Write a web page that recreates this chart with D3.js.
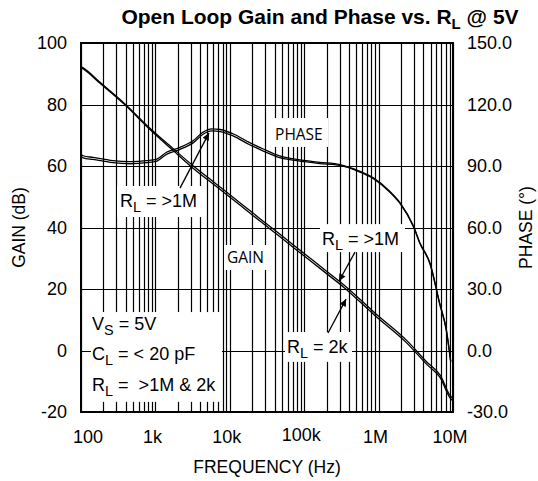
<!DOCTYPE html>
<html><head><meta charset="utf-8">
<script src="https://cdn.jsdelivr.net/npm/d3@7"></script>
<style>
body{margin:0;background:#fff}
svg{display:block}
text{font-family:"Liberation Sans",Arial,sans-serif;fill:#000;white-space:pre}
</style>
</head><body>
<svg id="c" width="538" height="481"></svg>
<script>
// ---------- data ----------
const xTicks = [100, 1e3, 1e4, 1e5, 1e6, 1e7];
const xTickLabels = ["100", "1k", "10k", "100k", "1M", "10M"];
const gainTicks = [-20, 0, 20, 40, 60, 80, 100];
const gainTickLabels = ["-20", "0", "20", "40", "60", "80", "100"];
const phaseTicks = [-30, 0, 30, 60, 90, 120, 150];
const phaseTickLabels = ["-30.0", "0.0", "30.0", "60.0", "90.0", "120.0", "150.0"];

const gainFreq = [100, 107, 180, 389, 851, 1740, 3240, 6610, 13800, 18600, 25700, 46800, 70800, 200000, 339000, 891000, 2400000, 4470000, 6760000, 9120000, 10000000];
const gain1M = [92.3, 91.9, 87.2, 80.2, 72.2, 65.6, 60.0, 54.1, 48.0, 45.5, 42.8, 37.9, 34.4, 25.8, 21.4, 12.2, 3.2, -3.8, -8.1, -14.6, -15.6];
const gain2k = [92.0, 91.6, 86.9, 79.9, 71.8, 65.0, 59.2, 53.3, 47.2, 44.7, 42.0, 37.1, 33.6, 25.0, 20.6, 11.4, 2.4, -4.6, -8.9, -15.4, -16.4];

const phaseFreq = [100, 107, 145, 200, 269, 457, 759, 1050, 1410, 2140, 3240, 4370, 5750, 7410, 11200, 18200, 28200, 46800, 79400, 162000, 302000, 562000, 851000, 1410000, 1950000, 2950000, 3630000, 4900000, 6610000, 8130000, 9330000];
const phase1M = [95.5, 95.0, 94.2, 93.4, 92.6, 92.1, 92.6, 93.4, 96.7, 99.1, 102.4, 106.5, 108.1, 107.8, 105.6, 101.5, 98.3, 94.9, 93.2, 91.8, 90.7, 87.4, 84.2, 77.7, 72.0, 60.6, 52.2, 42.7, 23.2, 10.2, -5.3];
const phase2k = [94.5, 94.0, 93.2, 92.4, 91.6, 91.1, 91.6, 92.4, 95.7, 98.1, 101.4, 105.5, 107.1, 106.8, 104.6, 100.5, 97.3, 94.1, 92.6, 91.2, 90.3, 87.0, 83.8, 77.3, 71.6, 60.2, 51.8, 42.3, 22.8, 9.8, -5.7];

// annotations (data coordinates: frequency, gain dB)
const notes = [
  {parts: [["PHASE", ""]], font: "Open Sans", size: 15.5, at: [[40600, 68.5]], box: [36900, 75.6, 209000, 66.2]},
  {parts: [["GAIN", ""]], font: "Open Sans", size: 15.5, at: [[9160, 28.5]], box: [8360, 34.3, 32600, 26.2]},
  {parts: [["R", ""], ["L", "sub"], [" = >1M", ""]], at: [[334, 46.7]], box: [305, 53.5, 4370, 43.4]},
  {parts: [["R", ""], ["L", "sub"], [" = >1M", ""]], at: [[173000, 34.3]], box: [163000, 41.1, 2260000, 32.0]},
  {parts: [["R", ""], ["L", "sub"], [" = 2k", ""]], at: [[58800, -0.9]], box: [55200, 6.0, 439000, -3.7]},
];
const infoLines = [
  [["V", ""], ["S", "sub"], [" = 5V", ""]],
  [["C", ""], ["L", "sub"], [" = < 20 pF", ""]],
  [["R", ""], ["L", "sub"], [" =  >1M & 2k", ""]],
];
const infoAt = [[141, 6.7], [141, -3.1], [141, -13.2]];
const infoBox = [136, 12.5, 7850, -16.7];

const arrows = [
  {from: [2140, 52.8], to: [5250, 70.7]},
  {from: [482000, 32.0], to: [294000, 22.6]},
  {from: [209000, 5.7], to: [365000, 16.7]},
];

// ---------- layout ----------
const L = 81, R = 453, T = 43, B = 412;
const svg = d3.select("#c");
const x = d3.scaleLog().domain([100, 1e7]).range([L, R]);
const yG = d3.scaleLinear().domain([-20, 100]).range([B, T]);
const yP = d3.scaleLinear().domain([-30, 150]).range([B, T]);

svg.append("defs").append("marker")
  .attr("id", "ah").attr("viewBox", "0 0 10 10").attr("refX", 10).attr("refY", 5)
  .attr("markerWidth", 10).attr("markerHeight", 7).attr("markerUnits", "userSpaceOnUse")
  .attr("orient", "auto")
  .append("path").attr("d", "M0,0 L10,5 L0,10 z").attr("fill", "#000");

// grid
const minor = [];
for (let k = 2; k < 7; k++) for (let d = 1; d < 10; d++) minor.push(d * Math.pow(10, k));
minor.push(1e7);
const g = svg.append("g");
g.selectAll("line.v").data(minor).join("line")
  .attr("x1", d => Math.round(x(d)) + 0.5).attr("x2", d => Math.round(x(d)) + 0.5)
  .attr("y1", T).attr("y2", B).attr("stroke", "#000").attr("stroke-width", 1.2);
g.selectAll("line.h").data(gainTicks).join("line")
  .attr("x1", L).attr("x2", R)
  .attr("y1", d => Math.round(yG(d)) + 0.5).attr("y2", d => Math.round(yG(d)) + 0.5)
  .attr("stroke", "#000").attr("stroke-width", 1.2);

// white label boxes
function boxRect(b) {
  svg.append("rect")
    .attr("x", x(b[0])).attr("y", yG(b[1]))
    .attr("width", x(b[2]) - x(b[0])).attr("height", yG(b[3]) - yG(b[1]))
    .attr("fill", "#fff");
}
notes.forEach(n => boxRect(n.box));
boxRect(infoBox);

// curves
const line = (xs, ys, yScale) => d3.line().curve(d3.curveMonotoneX)
  .x((d, i) => x(xs[i])).y((d, i) => yScale(ys[i]))(ys);
[[gainFreq, gain1M, yG], [gainFreq, gain2k, yG], [phaseFreq, phase1M, yP], [phaseFreq, phase2k, yP]]
  .forEach(([xs, ys, sc]) => {
    svg.append("path").attr("d", line(xs, ys, sc))
      .attr("fill", "none").attr("stroke", "#000").attr("stroke-width", 1.3)
      .attr("stroke-linejoin", "round");
  });

// border
svg.append("rect").attr("x", L).attr("y", T).attr("width", R - L).attr("height", B - T)
  .attr("fill", "none").attr("stroke", "#000").attr("stroke-width", 2);

// text helper
function richText(parts, px, py, size, font) {
  const t = svg.append("text").attr("x", px).attr("y", py).attr("font-size", size);
  if (font) t.style("font-family", font);
  let sub = false;
  parts.forEach(([s, k]) => {
    const ts = t.append("tspan").text(s);
    if (k === "sub") { ts.attr("dy", 5).attr("font-size", size * 0.8); sub = true; }
    else if (sub) { ts.attr("dy", -5); sub = false; }
  });
  return t;
}
notes.forEach(n => richText(n.parts, x(n.at[0][0]), yG(n.at[0][1]), n.size || 18, n.font));
infoLines.forEach((p, i) => richText(p, x(infoAt[i][0]), yG(infoAt[i][1]), 18));

// arrows
arrows.forEach(a => {
  svg.append("line")
    .attr("x1", x(a.from[0])).attr("y1", yG(a.from[1]))
    .attr("x2", x(a.to[0])).attr("y2", yG(a.to[1]))
    .attr("stroke", "#000").attr("stroke-width", 1.3).attr("marker-end", "url(#ah)");
});

// axes labels
svg.selectAll("text.gt").data(gainTicks).join("text")
  .attr("x", 67).attr("y", d => yG(d)).attr("dy", "0.35em")
  .attr("text-anchor", "end").attr("font-size", 18)
  .text((d, i) => gainTickLabels[i]);
svg.selectAll("text.pt").data(phaseTicks).join("text")
  .attr("x", 467).attr("y", d => yP(d)).attr("dy", "0.35em")
  .attr("text-anchor", "start").attr("font-size", 18)
  .text((d, i) => phaseTickLabels[i]);
svg.selectAll("text.xt").data(xTicks).join("text")
  .attr("x", (d, i) => x(d) + (i === 0 ? 7 : -3)).attr("y", (d, i) => i === 3 ? 441 : 443)
  .attr("text-anchor", "middle").attr("font-size", 18)
  .text((d, i) => xTickLabels[i]);

svg.append("text").attr("x", (L + R) / 2).attr("y", 473).attr("text-anchor", "middle")
  .attr("font-size", 17.5).text("FREQUENCY (Hz)");
svg.append("text").attr("transform", `translate(25,${(T + B) / 2}) rotate(-90)`)
  .attr("text-anchor", "middle").attr("font-size", 17.5).text("GAIN (dB)");
svg.append("text").attr("transform", `translate(532,${(T + B) / 2}) rotate(-90)`)
  .attr("text-anchor", "middle").attr("font-size", 17.5).text("PHASE (°)");

// title
const title = svg.append("text").attr("x", 320).attr("y", 24).attr("text-anchor", "middle")
  .attr("font-size", 21).attr("font-weight", "bold");
title.append("tspan").text("Open Loop Gain and Phase vs. R");
title.append("tspan").text("L").attr("font-size", 15).attr("dy", 5);
title.append("tspan").text(" @ 5V").attr("dy", -5);
</script>
</body></html>
